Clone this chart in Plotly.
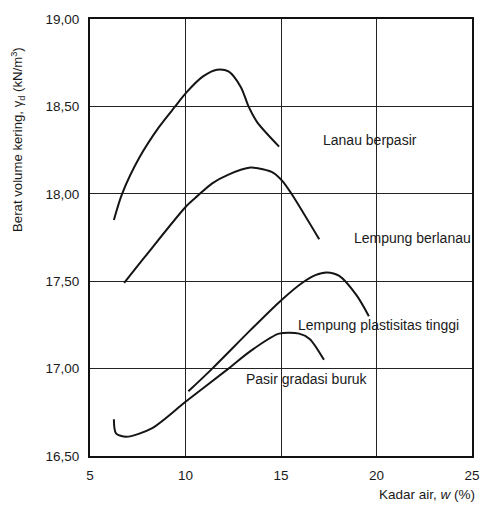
import plotly.graph_objects as go

# Compaction curves: water content w (%) vs dry unit weight (kN/m3)
lanau_berpasir_w = [6.25, 6.68, 7.6, 8.6, 9.46, 10.05, 10.9, 11.65, 12.25, 12.9, 13.3, 13.75, 14.9]
lanau_berpasir_g = [17.85, 18.00, 18.21, 18.38, 18.50, 18.58, 18.67, 18.71, 18.70, 18.61, 18.50, 18.41, 18.27]

lempung_berlanau_w = [6.79, 7.88, 10.05, 10.65, 11.4, 12.25, 13.4, 14.05, 14.6, 15.1, 15.55, 17.0]
lempung_berlanau_g = [17.49, 17.64, 17.93, 17.99, 18.06, 18.11, 18.15, 18.14, 18.12, 18.07, 18.00, 17.74]

lempung_plastis_w = [10.15, 11.4, 13.4, 15.0, 16.1, 16.8, 17.4, 18.05, 18.95, 19.6]
lempung_plastis_g = [16.87, 17.00, 17.22, 17.39, 17.49, 17.535, 17.55, 17.53, 17.42, 17.30]

pasir_gradasi_w = [6.25, 6.36, 6.9, 8.26, 10.0, 12.25, 13.4, 14.9, 15.95, 16.5, 17.25]
pasir_gradasi_g = [16.71, 16.63, 16.61, 16.66, 16.81, 17.00, 17.10, 17.20, 17.20, 17.17, 17.05]

x_ticks = [5, 10, 15, 20, 25]
y_ticks = [16.5, 17.0, 17.5, 18.0, 18.5, 19.0]
y_tick_text = ["16,50", "17,00", "17,50", "18,00", "18,50", "19,00"]

curve_labels = ["Lanau berpasir", "Lempung berlanau", "Lempung plastisitas tinggi", "Pasir gradasi buruk"]
label_w = [17.1, 18.74, 15.79, 13.05]
label_g = [18.31, 17.75, 17.25, 16.94]

LINE = "#151515"
FONT = "Liberation Sans, Arial, sans-serif"

fig = go.Figure()
for xs, ys in [(lanau_berpasir_w, lanau_berpasir_g),
               (lempung_berlanau_w, lempung_berlanau_g),
               (lempung_plastis_w, lempung_plastis_g),
               (pasir_gradasi_w, pasir_gradasi_g)]:
    fig.add_trace(go.Scatter(x=xs, y=ys, mode="lines",
                             line=dict(color=LINE, width=2, shape="spline", smoothing=0.8),
                             showlegend=False, hoverinfo="skip"))

for txt, lx, ly in zip(curve_labels, label_w, label_g):
    fig.add_annotation(x=lx, y=ly, text=txt, showarrow=False, xanchor="left", yanchor="middle",
                       font=dict(family=FONT, size=14, color="#1a1a1a"))

fig.add_annotation(xref="paper", yref="paper", x=1.013, y=-0.088, text="Kadar air, <i>w</i> (%)",
                   showarrow=False, xanchor="right", yanchor="middle",
                   font=dict(family=FONT, size=13.5, color="#1a1a1a"))
fig.add_annotation(xref="paper", yref="paper", x=-0.189, y=0.725,
                   text="Berat volume kering, γ<sub>d</sub> (kN/m<sup>3</sup>)",
                   textangle=-90, showarrow=False, xanchor="center", yanchor="middle",
                   font=dict(family=FONT, size=13.2, color="#1a1a1a"))

fig.update_xaxes(range=[5, 25], tickvals=x_ticks, showgrid=True, gridcolor="#222", gridwidth=1.4,
                 showline=True, linecolor="#111", linewidth=2.2, mirror=True, zeroline=False,
                 ticks="", ticklabelstandoff=6,
                 tickfont=dict(family=FONT, size=13.5, color="#1a1a1a"))
fig.update_yaxes(range=[16.5, 19.0], tickvals=y_ticks, ticktext=y_tick_text, showgrid=True,
                 gridcolor="#222", gridwidth=1.4, showline=True, linecolor="#111", linewidth=2.2,
                 mirror=True, zeroline=False, ticks="", ticklabelstandoff=6,
                 tickfont=dict(family=FONT, size=13.5, color="#1a1a1a"))

fig.update_layout(width=492, height=514, margin=dict(l=90, r=15, t=13, b=58),
                  paper_bgcolor="white", plot_bgcolor="white")

fig.write_html("out.html")
